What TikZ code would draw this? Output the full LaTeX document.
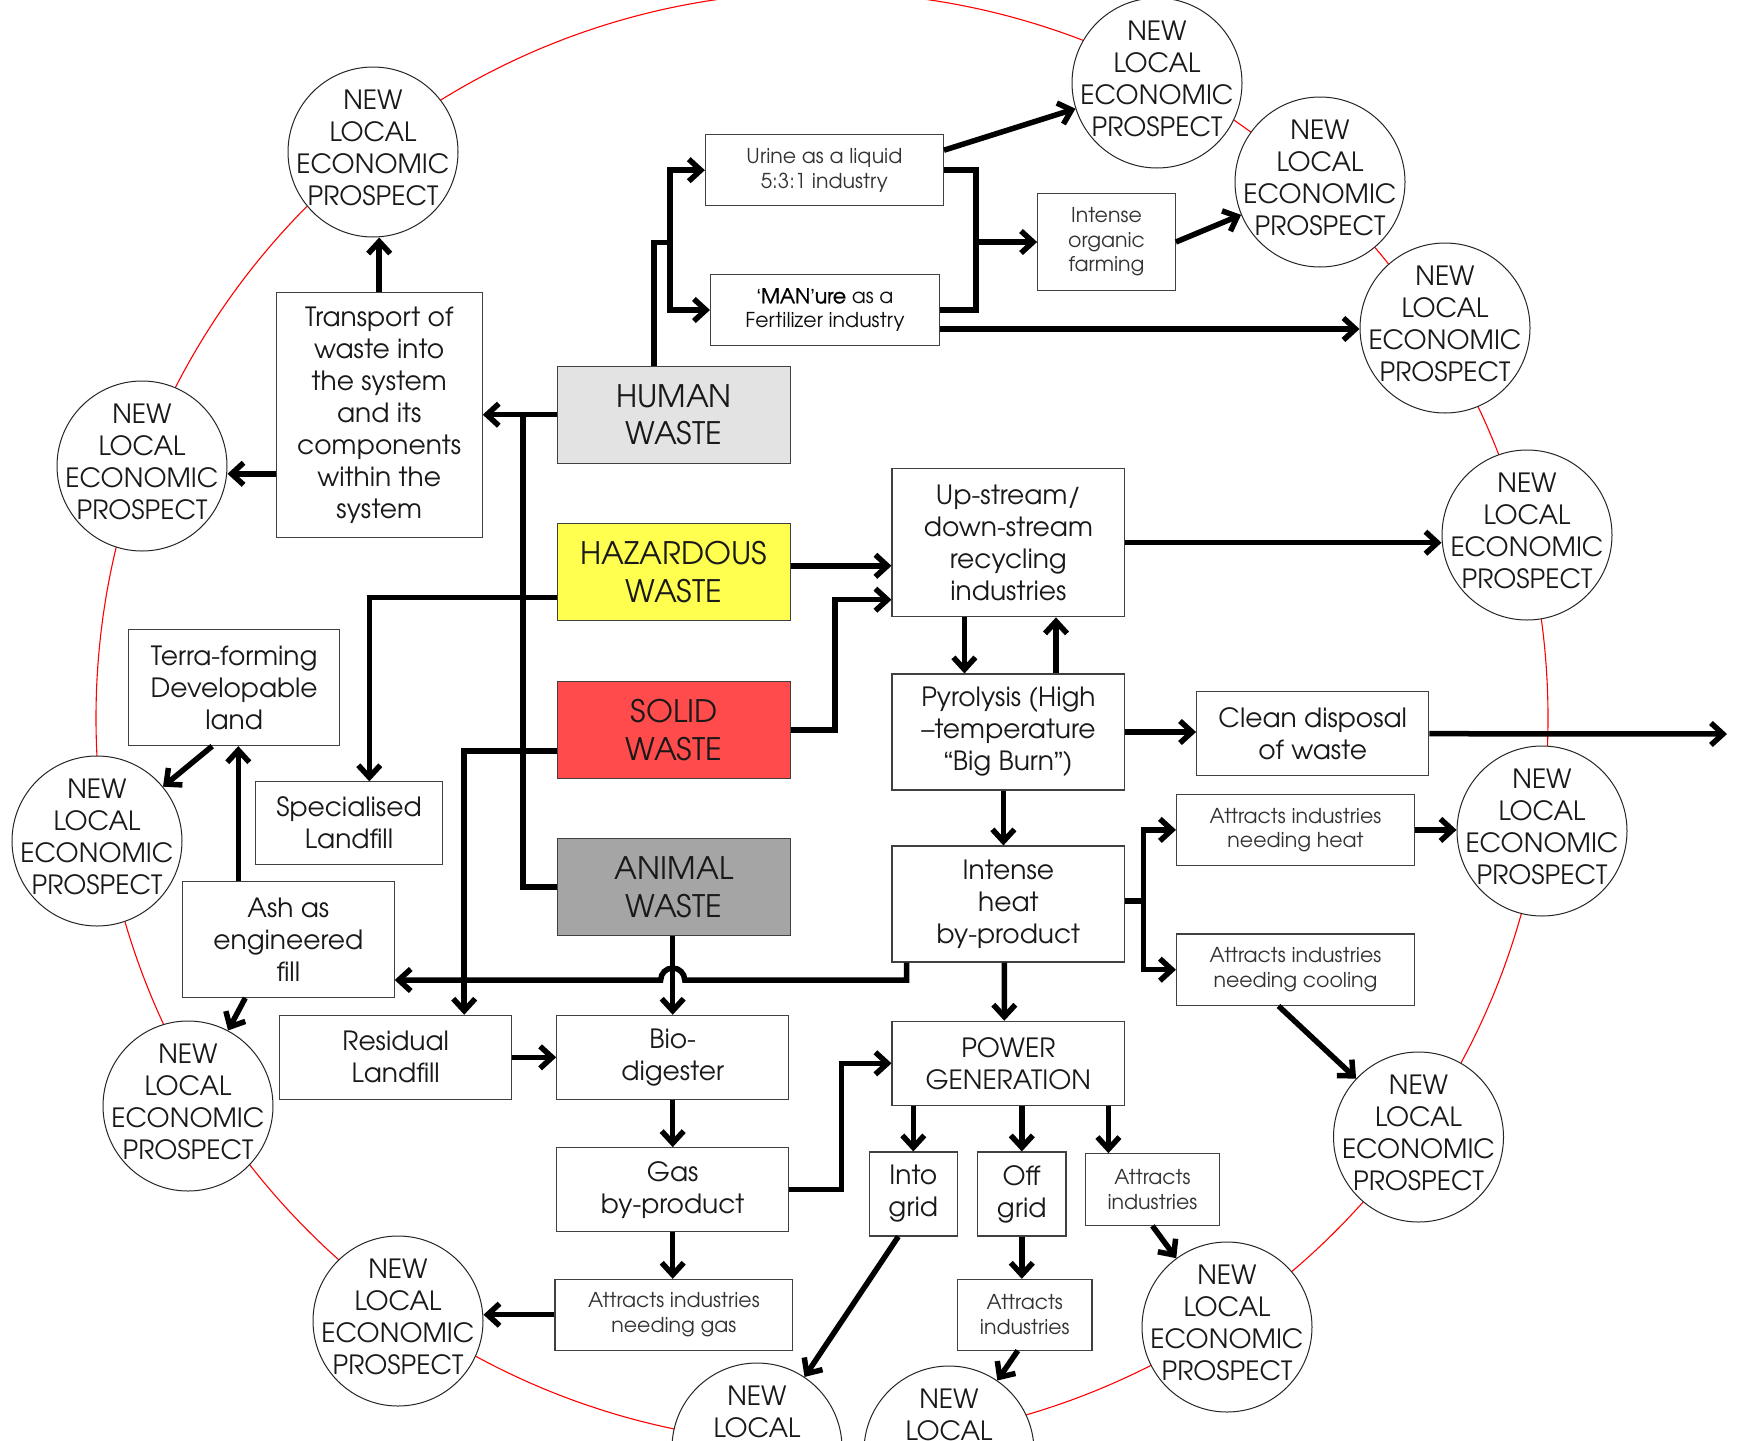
\documentclass[tikz,border=0pt]{standalone}
\usepackage{fontspec}
\setmainfont{TeX Gyre Adventor}
\newfontfamily\qfont{Liberation Sans}
\newfontfamily\semib[FakeBold=1.3]{TeX Gyre Adventor}
\usetikzlibrary{arrows.meta,calc}
\newcommand\fbig{\fontsize{26.5pt}{32pt}\selectfont}
\newcommand\fsml{\fontsize{20.5pt}{24.5pt}\selectfont}
\newcommand\fwaste{\fontsize{31pt}{37.5pt}\selectfont}
\newcommand\nlep{NEW\\LOCAL\\ECONOMIC\\PROSPECT}
\definecolor{hwaste}{HTML}{E3E3E3}
\definecolor{zwaste}{HTML}{FFFF4F}
\definecolor{swaste}{HTML}{FF4B4B}
\definecolor{awaste}{HTML}{A5A5A5}
\begin{document}
\begin{tikzpicture}[x=1pt,y=-1pt,
  box/.style={draw=black!75, line width=1.1pt, fill=white, align=center, inner sep=0pt, text=black!90, font=\fbig},
  sbox/.style={box, font=\fsml, text=black!80},
  wbox/.style={box, font=\fwaste, text=black!90},
  circ/.style={circle, draw=black!85, line width=1pt, fill=white, minimum size=170pt, inner sep=0pt,
     label={[align=center, font=\fbig, text=black!90, inner sep=0pt, yshift=4pt]center:\nlep}},
  arr/.style={line width=5.5pt, -{Straight Barb[length=12pt,width=22pt]}},
  lin/.style={line width=5.5pt}]
\useasboundingbox (0,0) rectangle (1742,1440);
\fill[white] (0,0) rectangle (1742,1440);
\draw[red, line width=1.1pt] (822,718) circle (726);

% prospect circles
\node[circ] (c1) at (1157,83) {};
\node[circ] (c2) at (1320,182) {};
\node[circ] (c3) at (1445,328) {};
\node[circ] (c4) at (1527,535) {};
\node[circ] (c5) at (1542,831) {};
\node[circ] (c6) at (1418.5,1137) {};
\node[circ] (c7) at (1227,1327) {};
\node[circ] (c8) at (949,1451) {};
\node[circ] (c9) at (757,1448) {};
\node[circ] (c10) at (398,1321) {};
\node[circ] (c11) at (188,1106) {};
\node[circ] (c12) at (97,841) {};
\node[circ] (c13) at (142,466) {};
\node[circ] (c14) at (373,152) {};

% boxes
\node[box, minimum width=206pt, minimum height=245pt] (transport) at (379.2,414.8) {Transport of\\waste into\\the system\\and its\\components\\within the\\system};
\node[sbox, minimum width=238pt, minimum height=71pt] (urine) at (824.4,170.2) {Urine as a liquid\\5:3:1 industry};
\node[sbox, minimum width=229pt, minimum height=70.6pt, text=black!95] (manure) at (825,310) {{\semib\color{black}{\qfont ‘}MAN{\qfont ’}ure} as a\\Fertilizer industry};
\node[sbox, minimum width=137.7pt, minimum height=96.6pt] (farming) at (1106.5,242) {Intense\\organic\\farming};
\node[wbox, fill=hwaste, minimum width=232.6pt, minimum height=97.3pt] (human) at (674,414.7) {HUMAN\\WASTE};
\node[wbox, fill=zwaste, minimum width=232.6pt, minimum height=97.2pt] (hazardous) at (674,571.8) {HAZARDOUS\\WASTE};
\node[wbox, fill=swaste, minimum width=232.6pt, minimum height=96.8pt] (solid) at (674,729.8) {SOLID\\WASTE};
\node[wbox, fill=awaste, minimum width=232.6pt, minimum height=97.5pt] (animal) at (674,887) {ANIMAL\\WASTE};
\node[box, minimum width=232.8pt, minimum height=148.2pt] (upstream) at (1008.4,542.7) {Up-stream/\\down-stream\\recycling\\industries};
\node[box, minimum width=232.8pt, minimum height=116pt] (pyro) at (1008.4,732) {Pyrolysis (High\\–temperature\\{\qfont “}Big Burn{\qfont ”})};
\node[box, minimum width=232.8pt, minimum height=116pt] (heat) at (1008.4,904) {Intense\\heat\\by-product};
\node[box, minimum width=232.6pt, minimum height=84pt] (power) at (1008.3,1063.3) {POWER\\GENERATION};
\node[box, minimum width=232.2pt, minimum height=83.9pt] (clean) at (1312.7,733.7) {Clean disposal\\of waste};
\node[sbox, minimum width=238pt, minimum height=71pt] (heatind) at (1295.5,829.9) {Attracts industries\\needing heat};
\node[sbox, minimum width=238pt, minimum height=71.4pt] (coolind) at (1295.5,969.7) {Attracts industries\\needing cooling};
\node[box, minimum width=211.2pt, minimum height=116pt] (terra) at (234.2,687.6) {Terra-forming\\Developable\\land};
\node[box, minimum width=187.5pt, minimum height=82.3pt] (special) at (349,823) {Specialised\\Landfill};
\node[box, minimum width=211.7pt, minimum height=116pt] (ash) at (288.3,939.4) {Ash as\\engineered\\fill};
\node[box, minimum width=232pt, minimum height=84pt] (residual) at (395.7,1057.3) {Residual\\Landfill};
\node[box, minimum width=232pt, minimum height=84pt] (bio) at (672.7,1057.3) {Bio-\\digester};
\node[box, minimum width=232pt, minimum height=84pt] (gas) at (672.7,1189.7) {Gas\\by-product};
\node[sbox, minimum width=237.8pt, minimum height=70.7pt] (gasind) at (673.9,1314.7) {Attracts industries\\needing gas};
\node[box, minimum width=87.5pt, minimum height=84pt] (intogrid) at (913.3,1194) {Into\\grid};
\node[box, minimum width=88.3pt, minimum height=84pt] (offgrid) at (1021.8,1194) {Off\\grid};
\node[sbox, minimum width=134.3pt, minimum height=71.6pt] (attrR) at (1152.4,1189.5) {Attracts\\industries};
\node[sbox, minimum width=134.4pt, minimum height=70.7pt] (attrB) at (1024.8,1314.7) {Attracts\\industries};

% helper coordinates
\coordinate (hj) at (669.8,242.3);
\coordinate (fj) at (976,242);
\coordinate (jA) at (523,414.7);
\coordinate (hb) at (1143.5,901);
\coordinate (out) at (1727,734);
\coordinate (hopR) at (684.7,980);
\coordinate (hopL) at (660.7,980);
\coordinate (hz) at ([yshift=6pt]hazardous.east);
\coordinate (ms) at ([yshift=-19pt]manure.east);
\coordinate (ts) at ([yshift=-59pt]transport.west);
\coordinate (as) at ([xshift=-50pt]ash.north);
\coordinate (pa) at ([xshift=-44pt]attrR.north);
\coordinate (hs) at ([xshift=-101.7pt]heat.south);

% human waste branch
\draw[lin] ([xshift=-20pt]human.north) |- (hj);
\draw[arr] (hj) |- (urine.west);
\draw[arr] (hj) |- (manure.west);
\draw[lin] (urine.east) -| (fj);
\draw[lin] (manure.east) -| (fj);
\draw[arr] (fj) -- (farming.west);
\draw[arr] ([yshift=20pt]urine.east) -- (c1);
\draw[arr] (ms) -- (ms -| c3.west);
\draw[arr] (farming.east) -- (c2);

% transport
\draw[arr] (human.west) -- (human.west -| transport.east);
\draw[lin] (animal.west) -| (jA);
\draw[arr] (transport.north) -- (transport.north |- c14.south);
\draw[arr] (ts) -- (ts -| c13.east);

% hazardous / solid
\draw[arr] ([yshift=-25.7pt]hazardous.west) -| ([xshift=20.3pt]special.north);
\draw[arr] ([yshift=-21.2pt]solid.west) -| ([xshift=68.5pt]residual.north);
\draw[arr] (hz) -- (hz -| upstream.west);
\draw[arr] (solid.east) -- ++(44,0) |- ([yshift=-57pt]upstream.west);

% recycling / pyrolysis
\draw[arr] (upstream.east) -- (upstream.east -| c4.west);
\draw[arr] ([xshift=-44pt]upstream.south) -- ([xshift=-44pt]pyro.north);
\draw[arr] ([xshift=47.6pt]pyro.north) -- ([xshift=47.6pt]upstream.south);
\draw[arr] ([xshift=-5pt]pyro.south) -- ([xshift=-5pt]heat.north);
\draw[arr] (pyro.east) -- (pyro.east -| clean.west);
\draw[arr] (clean.east) -- (out);

% heat
\draw[arr] ([xshift=-4pt]heat.south) -- ([xshift=-4pt]power.north);
\draw[lin] ([yshift=3pt]heat.east) -- (hb);
\draw[arr] (hb) |- (heatind.west);
\draw[arr] (hb) |- (coolind.west);
\draw[arr] (heatind.east) -- (heatind.east -| c5.west);
\draw[arr] ([xshift=-17pt]coolind.south) -- (c6);
\draw[arr] (hs) |- (hopR) arc (0:-180:12) -- (hopL -| ash.east);

% left side
\draw[arr] (as) -- (as |- terra.south);
\draw[arr] ([xshift=-22pt]terra.south) -- (c12);
\draw[arr] ([xshift=-43pt]ash.south) -- (c11);

% digester chain
\draw[arr] (animal.south -| bio.north) -- (bio.north);
\draw[arr] (residual.east) -- (bio.west);
\draw[arr] (bio.south) -- (gas.north);
\draw[arr] (gas.south) -- (gas.south |- gasind.north);
\draw[arr] (gas.east) -- ++(52,0) |- (power.west);
\draw[arr] (gasind.west) -- (gasind.west -| c10.east);

% power
\draw[arr] (intogrid.north |- power.south) -- (intogrid.north);
\draw[arr] (offgrid.north |- power.south) -- (offgrid.north);
\draw[arr] (pa |- power.south) -- (pa);
\draw[arr] ([xshift=-15pt]intogrid.south) -- (c9);
\draw[arr] (offgrid.south) -- (offgrid.south |- attrB.north);
\draw[arr] ([xshift=-7pt]attrB.south) -- (c8);
\draw[arr] (attrR.south) -- (c7);
\end{tikzpicture}
\end{document}
